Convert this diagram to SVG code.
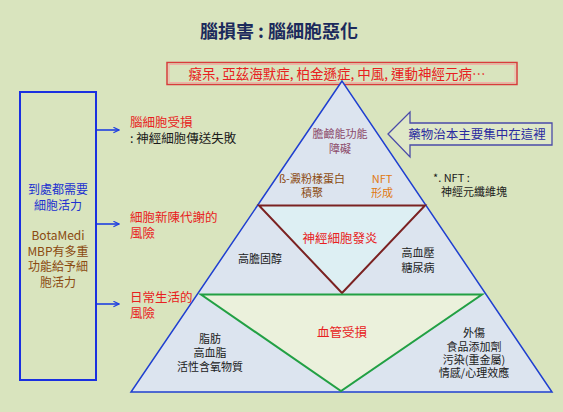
<svg xmlns="http://www.w3.org/2000/svg" width="563" height="412" viewBox="0 0 563 412">
<defs>
<style>
text{font-family:"Noto Sans CJK TC","Noto Sans CJK SC",sans-serif;}
.t11{font-size:11px;fill:#1a1a1a;}
.c{text-anchor:middle;}
.red{fill:#e82020;}
.blue{fill:#2030d0;}
.brown{fill:#8b4a10;}
.lbl{font-size:12.5px;}
.box{font-size:12px;}
.conn{stroke:#1f3fe0;stroke-width:1.6;fill:none;}
</style>
<marker id="ah" viewBox="0 0 10 10" refX="9" refY="5" markerWidth="7" markerHeight="7" orient="auto" markerUnits="userSpaceOnUse">
<path d="M1,1 L9,5 L1,9" fill="none" stroke="#1f3fe0" stroke-width="1.6"/>
</marker>
</defs>
<rect x="0" y="0" width="563" height="412" fill="#d9e4be"/>

<g id="title">
<text x="200" y="38" font-size="18" font-weight="bold" fill="#1c2a5c">腦損害 : 腦細胞惡化</text>
</g>

<g id="banner">
<rect x="167" y="62.5" width="350" height="22" fill="none" stroke="#d83c3c" stroke-width="1.5"/>
<rect x="169" y="64.5" width="346" height="18" fill="none" stroke="#f2b0a8" stroke-width="1"/>
<text x="337" y="79" class="c red" font-size="13.5">癡呆, 亞茲海默症, 柏金遜症, 中風, 運動神經元病…</text>
</g>

<g id="pyramid">
<polygon points="342,81 131,392 552,392" fill="#dce4ef" stroke="#1f3fd0" stroke-width="1.5"/>
</g>
<g id="inflammation">
<polygon points="259,205.5 425,205.5 342,293" fill="#ddeff3" stroke="#7b2222" stroke-width="2"/>
<text x="340" y="243" class="c red" font-size="12.5">神經細胞發炎</text>
</g>
<g id="vascular">
<polygon points="201,294.5 482,294.5 341,391" fill="#ebf1dc" stroke="#22a044" stroke-width="2"/>
<text x="342" y="336.5" class="c red" font-size="12.5">血管受損</text>
</g>

<g id="cholinergic">
<text x="340" y="138" class="c" font-size="11" fill="#8c4a6a">膽鹼能功能</text>
<text x="340" y="153" class="c" font-size="11" fill="#8c4a6a">障礙</text>
</g>
<g id="amyloid">
<text x="312" y="183" class="c brown" font-size="11">ß-澱粉樣蛋白</text>
<text x="312" y="197" class="c brown" font-size="11">積聚</text>
</g>
<g id="nft">
<text x="382" y="183" class="c" font-size="11" fill="#e07810">NFT</text>
<text x="382" y="197" class="c" font-size="11" fill="#e07810">形成</text>
</g>
<g id="nft-note">
<text x="433" y="182" class="t11" font-size="11.5">*. NFT :</text>
<text x="441" y="196" class="t11" font-size="11.5">神經元纖維塊</text>
</g>
<g id="cholesterol">
<text x="260" y="263" class="c t11">高膽固醇</text>
</g>
<g id="bp">
<text x="418" y="257" class="c t11">高血壓</text>
<text x="418" y="272" class="c t11">糖尿病</text>
</g>
<g id="fat">
<text x="210" y="343" class="c t11">脂肪</text>
<text x="210" y="357" class="c t11">高血脂</text>
<text x="210" y="371" class="c t11">活性含氧物質</text>
</g>
<g id="trauma">
<text x="474" y="337" class="c t11">外傷</text>
<text x="474" y="351" class="c t11">食品添加劑</text>
<text x="474" y="364" class="c t11">污染(重金屬)</text>
<text x="474" y="377" class="c t11">情感/心理效應</text>
</g>

<g id="drug-arrow">
<polygon points="388,134 410,112 410,123 552,123 552,145 410,145 410,157" fill="#dfe8c8" stroke="#4a4aa8" stroke-width="1.3"/>
<text x="477" y="138.5" class="c" font-size="12.5" fill="#2a2aa0">藥物治本主要集中在這裡</text>
</g>

<g id="left-box">
<rect x="20" y="92" width="76" height="288" fill="none" stroke="#1a30e0" stroke-width="2"/>
<text x="58" y="194" class="c blue box">到處都需要</text>
<text x="58" y="209.5" class="c blue box">細胞活力</text>
<text x="58" y="240" class="c brown box" font-size="12.5">BotaMedi</text>
<text x="58" y="255.5" class="c brown box">MBP有多重</text>
<text x="58" y="271" class="c brown box">功能給予細</text>
<text x="58" y="286.5" class="c brown box">胞活力</text>
</g>

<g id="connectors">
<line x1="97" y1="130" x2="119" y2="130" class="conn" marker-end="url(#ah)"/>
<line x1="97" y1="224" x2="119" y2="224" class="conn" marker-end="url(#ah)"/>
<line x1="97" y1="304" x2="119" y2="304" class="conn" marker-end="url(#ah)"/>
</g>

<g id="label-damage">
<text x="130" y="127" class="red lbl">腦細胞受損</text>
<text x="130" y="143" class="lbl" fill="#1a1a1a">: 神經細胞傳送失敗</text>
</g>
<g id="label-metabolism">
<text x="130" y="222" class="red lbl">細胞新陳代謝的</text>
<text x="130" y="238" class="red lbl">風險</text>
</g>
<g id="label-daily">
<text x="130" y="302" class="red lbl">日常生活的</text>
<text x="130" y="318" class="red lbl">風險</text>
</g>
</svg>
